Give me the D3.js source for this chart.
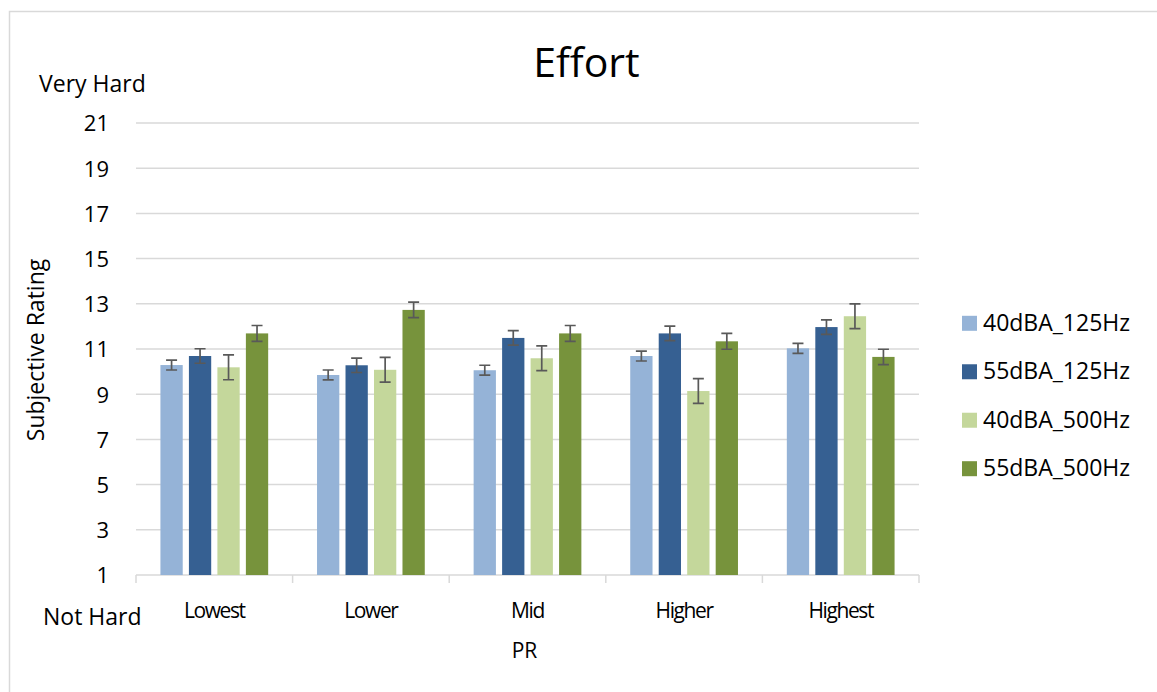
<!DOCTYPE html>
<html>
<head>
<meta charset="utf-8">
<script src="https://cdn.jsdelivr.net/npm/d3@7"></script>
<style>
  html, body { margin: 0; padding: 0; background: #fff; }
  svg { display: block; font-family: "Open Sans", "Noto Sans", sans-serif; }
</style>
</head>
<body>
<svg id="chart" width="1157" height="692"></svg>
<script>
// ---- data ----
const categories = ["Lowest", "Lower", "Mid", "Higher", "Highest"];
const seriesNames = ["40dBA_125Hz", "55dBA_125Hz", "40dBA_500Hz", "55dBA_500Hz"];
const s40_125 = [10.29, 9.85, 10.06, 10.69, 11.03];
const s55_125 = [10.69, 10.28, 11.49, 11.69, 11.97];
const s40_500 = [10.19, 10.08, 10.59, 9.14, 12.45];
const s55_500 = [11.69, 12.73, 11.69, 11.34, 10.65];
const e40_125 = [0.22, 0.22, 0.22, 0.22, 0.22];
const e55_125 = [0.32, 0.32, 0.32, 0.32, 0.32];
const e40_500 = [0.55, 0.55, 0.55, 0.55, 0.55];
const e55_500 = [0.35, 0.34, 0.35, 0.35, 0.34];
const yTicks = [1, 3, 5, 7, 9, 11, 13, 15, 17, 19, 21];
const colors = ["#95B3D7", "#366092", "#C4D79B", "#77933C"];

const seriesValues = [s40_125, s55_125, s40_500, s55_500];
const seriesErrors = [e40_125, e55_125, e40_500, e55_500];

(function () {
const svg = d3.select("#chart");
const grid = "#d9d9d9";

// outer frame
svg.append("path")
  .attr("d", "M9.5,692 L9.5,11.5 L1157,11.5")
  .attr("fill", "none").attr("stroke", grid).attr("stroke-width", 1.5);

const pLeft = 136, pRight = 919, pTop = 123, pBottom = 575;

const x0 = d3.scaleBand().domain(categories).range([pLeft, pRight]).paddingInner(0).paddingOuter(0);
const bw = x0.bandwidth();
const x1 = d3.scaleBand().domain(seriesNames)
  .range([bw * 0.156, bw * 0.844]).paddingInner(0.2175).paddingOuter(0);
const y = d3.scaleLinear().domain([1, 21]).range([pBottom, pTop]);

// gridlines
svg.append("g").selectAll("line").data(yTicks.filter(t => t !== 1)).join("line")
  .attr("x1", pLeft).attr("x2", pRight)
  .attr("y1", d => y(d)).attr("y2", d => y(d))
  .attr("stroke", grid).attr("stroke-width", 1.5);

// y axis labels
const yAxis = d3.axisLeft(y).tickValues(yTicks).tickSize(0).tickPadding(0).tickFormat(d3.format("d"));
const yg = svg.append("g").attr("transform", `translate(109,0)`).call(yAxis);
yg.select(".domain").remove();
yg.selectAll("text").attr("font-size", 22).attr("fill", "#000")
  .attr("font-family", "'Open Sans', sans-serif").attr("dy", "0.36em");

// x axis
const xAxis = d3.axisBottom(x0).tickSize(0).tickPadding(0);
const xg = svg.append("g").attr("transform", `translate(0,${pBottom})`).call(xAxis);
xg.select(".domain").remove();
xg.selectAll("text").attr("font-size", 21).attr("fill", "#000")
  .attr("font-family", "'Open Sans', sans-serif")
  .attr("letter-spacing", "-1.4px").attr("y", 43).attr("dy", 0);
svg.append("line").attr("x1", pLeft).attr("x2", pRight).attr("y1", pBottom).attr("y2", pBottom)
  .attr("stroke", grid).attr("stroke-width", 1.5);
const bounds = categories.map(c => x0(c)).concat([pRight]);
svg.append("g").selectAll("line").data(bounds).join("line")
  .attr("x1", d => d).attr("x2", d => d).attr("y1", pBottom).attr("y2", pBottom + 8)
  .attr("stroke", grid).attr("stroke-width", 1.5);

// bars
const groups = svg.append("g").selectAll("g").data(categories).join("g")
  .attr("transform", c => `translate(${x0(c)},0)`);
seriesNames.forEach((s, si) => {
  groups.append("rect")
    .attr("x", x1(s))
    .attr("width", x1.bandwidth())
    .attr("y", (c, ci) => y(seriesValues[si][ci]))
    .attr("height", (c, ci) => y(1) - y(seriesValues[si][ci]))
    .attr("fill", colors[si]);
});
// error bars
const capW = 11;
seriesNames.forEach((s, si) => {
  const cx = x1(s) + x1.bandwidth() / 2;
  groups.append("path")
    .attr("d", (c, ci) => {
      const v = seriesValues[si][ci], e = seriesErrors[si][ci];
      const y1 = y(v + e), y2 = y(v - e);
      return `M${cx},${y1}V${y2}M${cx - capW / 2},${y1}H${cx + capW / 2}M${cx - capW / 2},${y2}H${cx + capW / 2}`;
    })
    .attr("fill", "none").attr("stroke", "#595959").attr("stroke-width", 1.7);
});

// title and texts
svg.append("text").attr("x", 586.5).attr("y", 77).attr("text-anchor", "middle")
  .attr("font-size", 41).attr("fill", "#000").text("Effort");
svg.append("text").attr("x", 39).attr("y", 91.5).attr("font-size", 23).attr("fill", "#000").text("Very Hard");
svg.append("text").attr("x", 43).attr("y", 625).attr("font-size", 23).attr("fill", "#000").text("Not Hard");
svg.append("text").attr("x", (pLeft + pRight) / 2 - 3).attr("y", 658).attr("text-anchor", "middle")
  .attr("font-size", 21).attr("fill", "#000").text("PR");
svg.append("text").attr("transform", `translate(44,350) rotate(-90)`).attr("text-anchor", "middle")
  .attr("font-size", 23).attr("fill", "#000").text("Subjective Rating");

// legend
const legendY = d3.scalePoint().domain(seriesNames).range([323.3, 468.7]);
const lg = svg.append("g").selectAll("g").data(seriesNames).join("g")
  .attr("transform", d => `translate(962,${legendY(d)})`);
lg.append("rect").attr("x", 0).attr("y", -7.5).attr("width", 15).attr("height", 15)
  .attr("fill", (d, i) => colors[i]);
lg.append("text").attr("x", 21).attr("y", 7.5).attr("font-size", 23).attr("fill", "#000").text(d => d);
})();
</script>
</body>
</html>
